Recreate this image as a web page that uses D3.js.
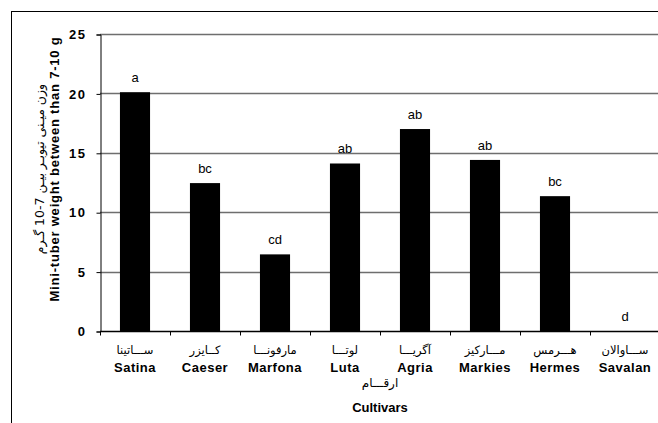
<!DOCTYPE html>
<html>
<head>
<meta charset="utf-8">
<script src="https://cdn.jsdelivr.net/npm/d3@7"></script>
<style>
body { margin: 0; background: #fff; }
.tick text { font-family: "Liberation Sans", Arial, sans-serif; }
</style>
</head>
<body>
<div id="chart"></div>
<script>
var svgWidth = 658;
var svgHeight = 423;

// data
var cultivars = ["Satina", "Caeser", "Marfona", "Luta", "Agria", "Markies", "Hermes", "Savalan"];
var cultivarsFa = ["ســـاتینا", "کــایزر", "مارفونـــا", "لوتـــا", "آگریـــا", "مـــارکیز", "هـــرمس", "ســـاوالان"];
var weights = [20.1, 12.45, 6.45, 14.1, 17.0, 14.4, 11.35, 0];
var letters = ["a", "bc", "cd", "ab", "ab", "ab", "bc", "d"];
var yTicks = [0, 5, 10, 15, 20, 25];

var margin = { top: 34, left: 100 };
var plotRight = 660;

var svg = d3.select("#chart")
    .append("svg")
    .attr("width", svgWidth)
    .attr("height", svgHeight);

// outer frame (runs off the right and bottom edges)
svg.append("rect")
    .attr("x", 11.5)
    .attr("y", 11.5)
    .attr("width", 700)
    .attr("height", 500)
    .attr("fill", "none")
    .attr("stroke", "#000")
    .attr("stroke-width", 1);

var x = d3.scaleBand()
    .domain(cultivars)
    .range([margin.left, plotRight])
    .padding(0);

var y = d3.scaleLinear()
    .domain([0, 25])
    .range([331, margin.top]);

// gridlines
svg.append("g")
    .selectAll("line")
    .data(yTicks.filter(d => d > 0))
    .enter()
    .append("line")
    .attr("x1", margin.left)
    .attr("x2", plotRight)
    .attr("y1", d => Math.round(y(d)) + 0.5)
    .attr("y2", d => Math.round(y(d)) + 0.5)
    .attr("stroke", "#6e6e6e")
    .attr("stroke-width", 1.5);

// bars
var barW = x.bandwidth() * 0.43;
svg.append("g")
    .selectAll("rect")
    .data(weights)
    .enter()
    .append("rect")
    .attr("x", (d, i) => x(cultivars[i]) + (x.bandwidth() - barW) / 2)
    .attr("y", d => y(d))
    .attr("width", barW)
    .attr("height", d => y(0) - y(d))
    .attr("fill", "#000");

// significance letters
svg.append("g")
    .selectAll("text")
    .data(letters)
    .enter()
    .append("text")
    .attr("x", (d, i) => x(cultivars[i]) + x.bandwidth() / 2)
    .attr("y", (d, i) => y(weights[i]) - 10)
    .attr("text-anchor", "middle")
    .style("font-family", "Liberation Sans, Arial, sans-serif")
    .style("font-size", "13px")
    .text(d => d);

// y axis
var leftAxis = d3.axisLeft(y).tickValues(yTicks).tickSize(4).tickPadding(10);
var yg = svg.append("g")
    .attr("transform", `translate(${margin.left + 0.5}, 0.5)`)
    .call(leftAxis);
yg.select(".domain").attr("stroke", "#000");
yg.selectAll(".tick text")
    .style("font-size", "13px")
    .style("font-weight", "bold")
    .style("letter-spacing", "1.5px")
    .attr("fill", "#000");

// x axis: ticks at band edges
var xg = svg.append("g")
    .attr("transform", `translate(0, ${Math.round(y(0)) + 0.5})`);
xg.append("line")
    .attr("x1", margin.left)
    .attr("x2", plotRight)
    .attr("stroke", "#000")
    .attr("stroke-width", 1.5);
xg.selectAll(".edge")
    .data(cultivars)
    .enter()
    .append("line")
    .attr("class", "edge")
    .attr("x1", d => Math.round(x(d)) + 0.5)
    .attr("x2", d => Math.round(x(d)) + 0.5)
    .attr("y1", 0)
    .attr("y2", 4)
    .attr("stroke", "#000");

// category labels (Persian + English)
xg.selectAll(".fa")
    .data(cultivarsFa)
    .enter()
    .append("text")
    .attr("class", "fa")
    .attr("x", (d, i) => x(cultivars[i]) + x.bandwidth() / 2)
    .attr("y", 22)
    .attr("text-anchor", "middle")
    .style("font-family", "DejaVu Sans, sans-serif")
    .style("font-size", "11.5px")
    .text(d => d);
xg.selectAll(".en")
    .data(cultivars)
    .enter()
    .append("text")
    .attr("class", "en")
    .attr("x", d => x(d) + x.bandwidth() / 2)
    .attr("y", 40)
    .attr("text-anchor", "middle")
    .style("font-family", "Liberation Sans, Arial, sans-serif")
    .style("font-size", "13px")
    .style("font-weight", "bold")
    .style("letter-spacing", "0.5px")
    .text(d => d);

// axis titles
var xMid = (margin.left + plotRight) / 2;
svg.append("text")
    .attr("x", xMid)
    .attr("y", 387)
    .attr("text-anchor", "middle")
    .style("font-family", "DejaVu Sans, sans-serif")
    .style("font-size", "12px")
    .text("ارقـــام");
svg.append("text")
    .attr("x", xMid)
    .attr("y", 412)
    .attr("text-anchor", "middle")
    .style("font-family", "Liberation Sans, Arial, sans-serif")
    .style("font-size", "13px")
    .style("font-weight", "bold")
    .text("Cultivars");

var yMid = 169;
svg.append("text")
    .attr("transform", `translate(44, ${yMid}) rotate(-90)`)
    .attr("text-anchor", "middle")
    .style("font-family", "DejaVu Sans, sans-serif")
    .style("font-size", "12.5px")
    .text("وزن میـنی تیوبـر بیـن 7-10 گـرم");
svg.append("text")
    .attr("transform", `translate(59, ${yMid}) rotate(-90)`)
    .attr("text-anchor", "middle")
    .style("font-family", "Liberation Sans, Arial, sans-serif")
    .style("font-size", "13px")
    .style("font-weight", "bold")
    .style("letter-spacing", "0.8px")
    .text("Mini-tuber weight between than 7-10 g");
</script>
</body>
</html>
